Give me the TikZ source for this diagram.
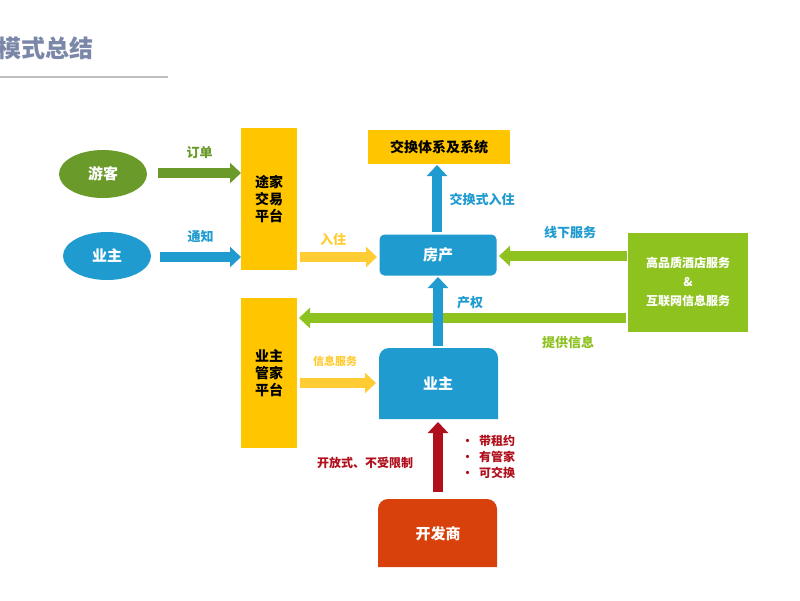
\documentclass[tikz,border=0pt]{standalone}
\usepackage{fontspec}
\setmainfont{Noto Sans CJK SC}
\usetikzlibrary{arrows.meta,shapes.geometric}
\definecolor{tg}{HTML}{6A9A2A}
\definecolor{tb}{HTML}{1F9BD0}
\definecolor{ty}{HTML}{FFC600}
\definecolor{ly}{HTML}{FFCC33}
\definecolor{lg}{HTML}{8DC21F}
\definecolor{dr}{HTML}{B0101C}
\definecolor{orr}{HTML}{D8400C}
\definecolor{tt}{HTML}{7A87A8}
\begin{document}
\begin{tikzpicture}[x=1pt,y=-1pt,
 every node/.style={font=\bfseries},
 arr/.style={line width=10pt,-{Triangle[width=20pt,length=11pt]}},
 lab/.style={font=\bfseries\fontsize{13}{15}\selectfont},
 wt/.style={text=white,font=\bfseries\fontsize{15}{18}\selectfont}]
\clip (0,0) rectangle (800,600);
\fill[white] (0,0) rectangle (800,600);
\node[anchor=east,text=tt,font=\bfseries\fontsize{24}{28}\selectfont] (title) at (97,48) {模式总结};
\draw[gray!50,line width=1.2pt] (0,77) -- (168,77);
% left
\node[ellipse,fill=tg,minimum width=88,minimum height=48,wt,draw=none,inner sep=0] (yk) at (103,174) {游客};
\node[ellipse,fill=tb,minimum width=88,minimum height=48,wt,inner sep=0] (yz) at (107,256) {业主};
\node[fill=ty,minimum width=56,minimum height=142,inner sep=0,align=center,font=\bfseries\fontsize{14}{17}\selectfont] (tj) at (269,199) {途家\\交易\\平台};
\node[fill=ty,minimum width=56,minimum height=150,inner sep=0,align=center,font=\bfseries\fontsize{14}{17}\selectfont] (gj) at (269,373) {业主\\管家\\平台};
\coordinate (a1) at (158,173); \coordinate (a1e) at (241,173);
\draw[arr,tg] (a1) -- (a1e) node[midway,above=6pt,lab,text=tg] {订单};
\coordinate (a2) at (160,257); \coordinate (a2e) at (241,257);
\draw[arr,tb] (a2) -- (a2e) node[midway,above=6pt,lab,text=tb] {通知};
% center
\node[fill=ty,minimum width=142,minimum height=34,inner sep=0,font=\bfseries\fontsize{14}{17}\selectfont] (jh) at (439,147) {交换体系及系统};
\node[fill=tb,rounded corners=5pt,minimum width=117,minimum height=41,inner sep=0,wt] (fc) at (438,255) {房产};
\fill[tb] (379,419) [rounded corners=10pt] -- (379,348) -- (498,348) [sharp corners] -- (498,419) -- cycle;
\node[wt] (yz2) at (438,384) {业主};
\fill[orr] (378,567) [rounded corners=10pt] -- (378,499) -- (497,499) [sharp corners] -- (497,567) -- cycle;
\node[wt] (kfs) at (438,534) {开发商};
\node[fill=lg,minimum width=120,minimum height=99,inner sep=0,align=center,text=white,font=\bfseries\fontsize{12}{19}\selectfont] (hj) at (688,282) {高品质酒店服务\\\&\\互联网信息服务};
\coordinate (b1) at (300,257); \coordinate (b1e) at (377,257);
\draw[arr,ly] (b1) -- (b1e);
\node[lab,text=ly] (l1) at (333,240) {入住};
\coordinate (b2) at (437,232); \coordinate (b2e) at (437,165);
\draw[arr,tb] (b2) -- (b2e);
\node[lab,text=tb] (l2) at (482,199) {交换式入住};
\coordinate (b3) at (627,256); \coordinate (b3e) at (499,256);
\draw[arr,lg] (b3) -- (b3e);
\node[lab,text=tb] (l3) at (570,233) {线下服务};
\coordinate (b4) at (626,318); \coordinate (b4e) at (299,318);
\draw[arr,lg] (b4) -- (b4e);
\node[lab,text=lg] (l4) at (568,343) {提供信息};
\coordinate (b5) at (438,346); \coordinate (b5e) at (438,277);
\draw[arr,tb] (b5) -- (b5e);
\node[lab,text=tb] (l5) at (470,303) {产权};
\coordinate (b6) at (300,383); \coordinate (b6e) at (376,383);
\draw[arr,ly] (b6) -- (b6e);
\node[lab,text=ly,font=\bfseries\fontsize{11}{13}\selectfont] (l6) at (335,361) {信息服务};
\coordinate (b7) at (438,492); \coordinate (b7e) at (438,422);
\draw[arr,dr] (b7) -- (b7e);
\node[text=dr,font=\bfseries\fontsize{12}{14}\selectfont] (l7) at (365,463) {开放式、不受限制};
\node[text=dr,align=left,anchor=west,font=\bfseries\fontsize{12}{16}\selectfont] (l8) at (458,457) {·\ \ 带租约\\·\ \ 有管家\\·\ \ 可交换};
\end{tikzpicture}
\end{document}
